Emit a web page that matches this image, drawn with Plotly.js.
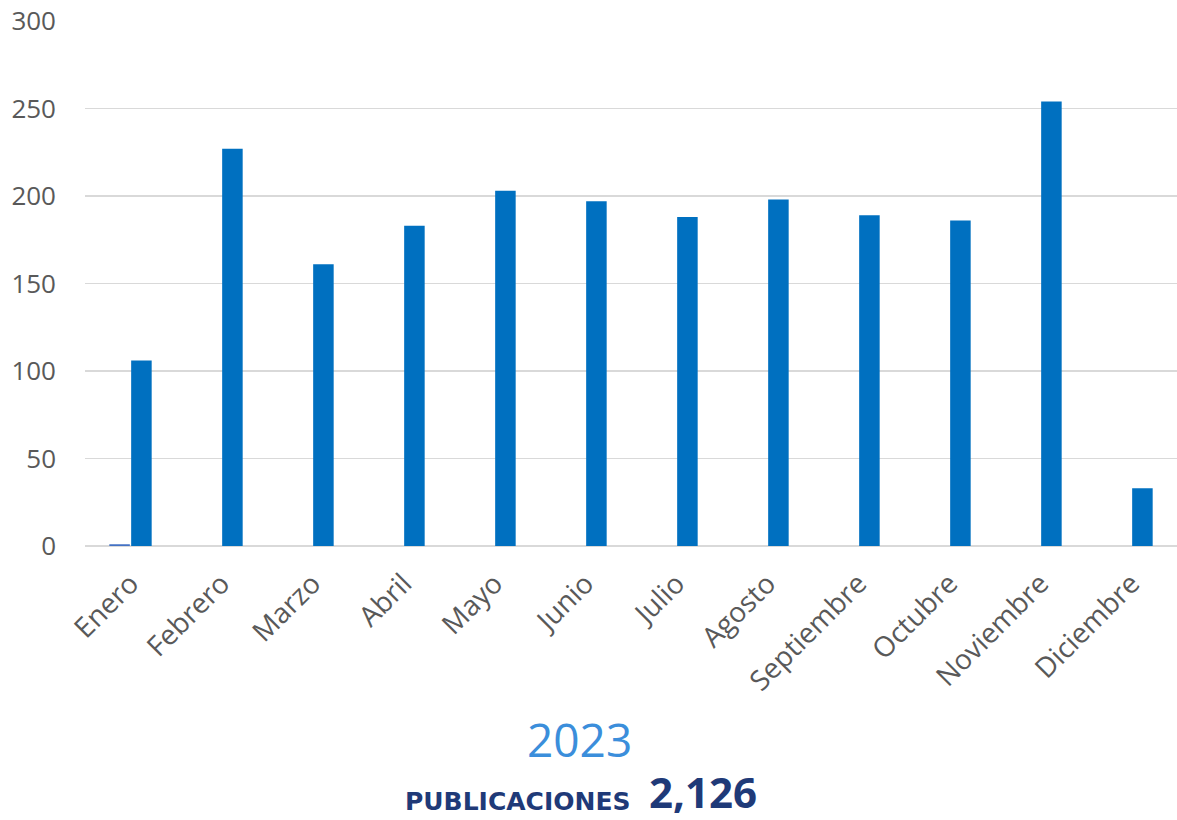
<!DOCTYPE html>
<html>
<head>
<meta charset="utf-8">
<script src="https://cdn.plot.ly/plotly-3.0.1.min.js"></script>
<style>html,body{margin:0;padding:0;background:#fff;}#chart{width:1177px;height:820px;}</style>
</head>
<body>
<div id="chart"></div>
<script>
const months = ["Enero","Febrero","Marzo","Abril","Mayo","Junio","Julio","Agosto","Septiembre","Octubre","Noviembre","Diciembre"];
const seriesSmall = [1, 0, 0, 0, 0, 0, 0, 0, 0, 0, 0, 0];
const series2023 = [106, 227, 161, 183, 203, 197, 188, 198, 189, 186, 254, 33];
const yearLabel = "2023";
const totalLabel = "PUBLICACIONES";
const totalValue = "2,126";

const traces = [
  {type:"bar", x:months, y:seriesSmall, marker:{color:"#4472C4"}, hoverinfo:"x+y"},
  {type:"bar", x:months, y:series2023, marker:{color:"#0070C0"}, hoverinfo:"x+y"}
];

const layout = {
  width:1177, height:820,
  margin:{l:85, r:0, t:21, b:274},
  paper_bgcolor:"#fff", plot_bgcolor:"#fff",
  showlegend:false,
  barmode:"group", bargap:0.52, bargroupgap:0.06,
  font:{family:"Open Sans, sans-serif", color:"#595959"},
  xaxis:{
    tickangle:-45, tickfont:{size:28, color:"#595959"},
    showgrid:false, zeroline:false, showline:false,
    ticks:"outside", ticklen:9, tickcolor:"rgba(0,0,0,0)", fixedrange:true
  },
  yaxis:{
    range:[0,300], tickvals:[0,50,100,150,200,250,300],
    tickfont:{size:26, color:"#595959"},
    showgrid:true, gridcolor:"#d9d9d9", gridwidth:1.5,
    zeroline:true, zerolinecolor:"#d9d9d9", zerolinewidth:2,
    ticks:"", ticklabelstandoff:28, fixedrange:true
  },
  annotations:[
    {text:yearLabel, xref:"paper", yref:"paper", x:0.453, y:-0.3676, xanchor:"center", yanchor:"middle",
     showarrow:false, font:{family:"Open Sans, sans-serif", size:46, color:"#3B8EDB"}},
    {text:"<b>"+totalLabel+"</b>", xref:"paper", yref:"paper", x:0.502, y:-0.486, xanchor:"right", yanchor:"middle",
     showarrow:false, font:{family:"DejaVu Sans, sans-serif", size:25, color:"#1F3A78"}},
    {text:"<b>"+totalValue+"</b>", xref:"paper", yref:"paper", x:0.5147, y:-0.468, xanchor:"left", yanchor:"middle",
     showarrow:false, font:{family:"Open Sans, sans-serif", size:42, color:"#1F3A78"}}
  ]
};

Plotly.newPlot("chart", traces, layout, {displayModeBar:false, staticPlot:true});
</script>
</body>
</html>
